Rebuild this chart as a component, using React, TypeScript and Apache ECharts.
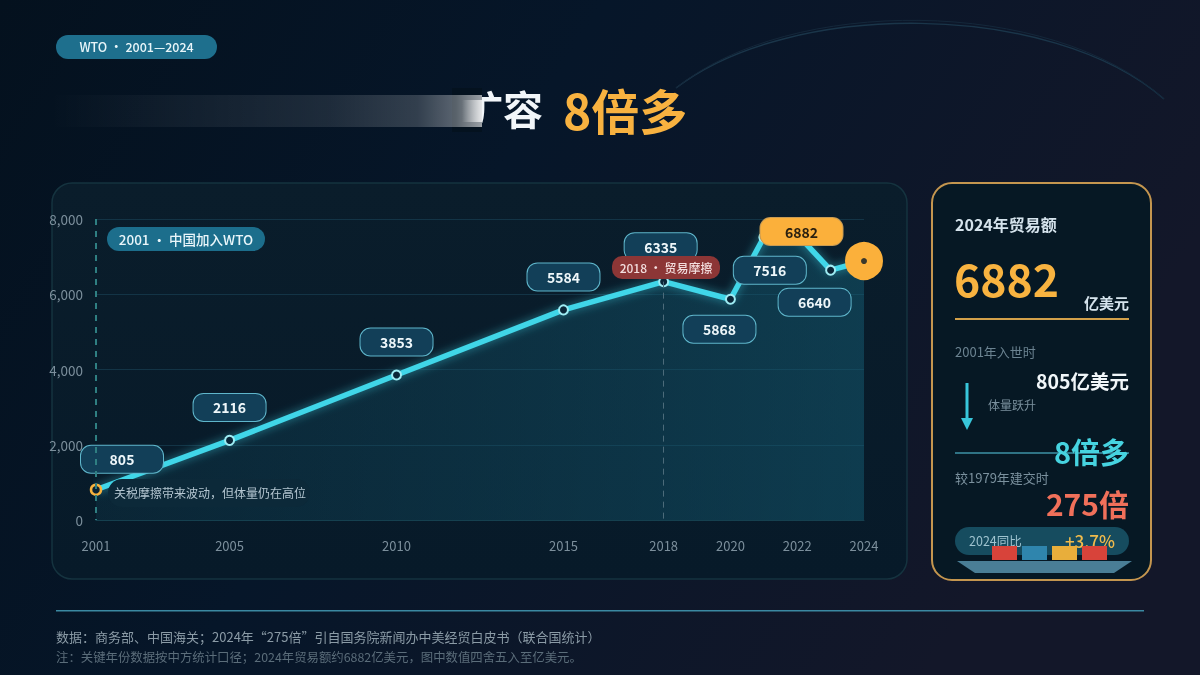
import React, { useEffect, useRef } from "react";
import * as echarts from "echarts";

const years = [2001, 2005, 2010, 2015, 2018, 2020, 2021, 2022, 2023, 2024];
const values = [805, 2116, 3853, 5584, 6335, 5868, 7516, 7594, 6640, 6882];
const tickYears = [2001, 2005, 2010, 2015, 2018, 2020, 2022, 2024];
const hiddenLabelYears = [2022];

const FONT = '"Noto Sans CJK SC", "Noto Sans", sans-serif';

const labelOffsets: Record<number, number[]> = {
  2001: [26, -30.5],
  2005: [0, -33],
  2010: [0, -33],
  2015: [0, -33],
  2018: [-3, -35],
  2020: [-11, 30],
  2021: [6, 33],
  2023: [-16, 32],
  2024: [-62.5, -29.5],
};

function txt(x: number, y: number, text: string, size: number, fill: string, opts: any = {}) {
  return {
    type: "text",
    x,
    y: y - 1,
    z: opts.z ?? 5,
    style: {
      text,
      fill,
      font: `${opts.weight ?? 400} ${size}px ${FONT}`,
      textAlign: opts.align ?? "left",
      textVerticalAlign: "middle",
      verticalAlign: "middle",
    },
  };
}

function box(x: number, y: number, w: number, h: number, r: number, fill: any, opts: any = {}) {
  return {
    type: "rect",
    z: opts.z ?? 1,
    shape: { x, y, width: w, height: h, r },
    style: { fill, stroke: opts.stroke ?? "none", lineWidth: opts.lineWidth ?? 0 },
  };
}

const linear = (x: number, y: number, x2: number, y2: number, stops: [number, string][]) =>
  new echarts.graphic.LinearGradient(
    x,
    y,
    x2,
    y2,
    stops.map(([offset, color]) => ({ offset, color }))
  );

export default function App() {
  const ref = useRef<HTMLDivElement>(null);

  useEffect(() => {
    document.body.style.margin = "0";
    const chart = echarts.init(ref.current!, undefined, { renderer: "svg" });

    const data = years.map((year, i) => {
      const first = year === 2001;
      const last = year === 2024;
      const hidden = hiddenLabelYears.includes(year);
      return {
        value: [year, values[i]],
        symbolSize: last ? 36 : first ? 10 : 9,
        itemStyle: {
          color: last ? "#fbb03b" : first ? "#0b2232" : "#0a2638",
          borderColor: first ? "#f7b23e" : last ? "#fbb03b" : "#9fecf3",
          borderWidth: first ? 2.5 : 2,
        },
        label: hidden
          ? { show: false }
          : {
              show: true,
              position: "inside",
              offset: labelOffsets[year],
              formatter: last ? "6882" : String(values[i]),
              width: first || last ? 82 : 72,
              height: 27,
              lineHeight: 27,
              align: "center",
              verticalAlign: "middle",
              fontFamily: FONT,
              fontSize: 14,
              fontWeight: 700,
              color: last ? "#2a2010" : "#eef7fa",
              backgroundColor: last ? "#fbb03b" : "#123f58",
              borderColor: last ? "#c99b52" : "#5fb6cb",
              borderWidth: 1,
              borderRadius: 10,
            },
      };
    });

    const lastIndex = years.length - 1;

    const graphic: any[] = [
      box(0, 0, 1200, 675, 0, linear(0, 0, 1, 0.35, [[0, "#04111e"], [0.45, "#061629"], [1, "#131729"]]), { z: 0 }),
      {
        type: "bezierCurve",
        z: 1,
        shape: { x1: 676, y1: 88, cpx1: 790, cpy1: 0, cpx2: 1050, cpy2: 0, x2: 1164, y2: 99 },
        style: { stroke: "#1a3549", lineWidth: 1.5, fill: "none" },
      },
      {
        type: "bezierCurve",
        z: 1,
        shape: { x1: 676, y1: 88, cpx1: 790, cpy1: -4, cpx2: 1050, cpy2: -4, x2: 1164, y2: 99 },
        style: { stroke: "#14273a", lineWidth: 1, fill: "none" },
      },

      box(56, 35, 161, 24, 12, "#1e6f8d"),
      txt(136.5, 47.5, "WTO · 2001—2024", 12.5, "#e8f5f9", { weight: 500, align: "center" }),

      txt(543, 109, "扩容", 40, "#f2f6f9", { weight: 700, align: "right" }),
      txt(563, 110, "8倍多", 48, "#f8b240", { weight: 700 }),
      box(452, 88, 30, 44, 0, "#04121f", { z: 6 }),
      box(50, 95, 432, 32, 0, linear(0, 0, 1, 0, [[0, "rgba(255,255,255,0)"], [0.3, "rgba(255,255,255,0.05)"], [0.65, "rgba(255,255,255,0.1)"], [0.85, "rgba(255,255,255,0.18)"], [0.94, "rgba(255,255,255,0.34)"], [1, "rgba(255,255,255,0.6)"]]), { z: 7 }),
      box(462, 100, 20, 22, 0, linear(0, 0, 1, 0, [[0, "rgba(255,255,255,0)"], [1, "rgba(255,255,255,0.75)"]]), { z: 8 }),

      box(52, 183, 855, 396, 20, linear(0, 0, 0, 1, [[0, "#0a1d2b"], [1, "#071a29"]]), { stroke: "#15333f", lineWidth: 1.5 }),
      box(932, 183, 219, 397, 20, "#061824", { stroke: "#c4964f", lineWidth: 2 }),

      box(107, 227, 158, 24, 12, "#1c6e8c", { z: 100 }),
      txt(186, 239.5, "2001 · 中国加入WTO", 13.5, "#eaf6fa", { weight: 500, align: "center", z: 101 }),
      box(612, 256, 108, 23, 10, "#8c3636", { z: 100 }),
      txt(666, 268, "2018 · 贸易摩擦", 12, "#f3dede", { weight: 500, align: "center", z: 101 }),
      box(108, 479, 202, 28, 14, "#0c2939", { z: 100 }),
      txt(114, 493.5, "关税摩擦带来波动，但体量仍在高位", 12, "#b4c6d1", { z: 101 }),

      txt(955, 225, "2024年贸易额", 16, "#d5e3ec", { weight: 700 }),
      txt(954, 278, "6882", 44.5, "#f8b340", { weight: 700 }),
      txt(1129, 303, "亿美元", 15, "#d5e3ec", { weight: 700, align: "right" }),
      box(955, 318, 174, 2, 0, "#d2a04a"),
      txt(955, 352, "2001年入世时", 13, "#6b8391"),
      txt(1129, 381, "805亿美元", 19.5, "#f0f6f9", { weight: 700, align: "right" }),
      box(965.5, 383, 3, 36, 0, "#38c6da"),
      {
        type: "polygon",
        z: 2,
        shape: { points: [[961, 418], [973, 418], [967, 430]] },
        style: { fill: "#38c6da" },
      },
      txt(988, 405, "体量跃升", 12, "#7b919e"),
      box(955, 452, 174, 2, 0, "#2f7385"),
      txt(1129, 452, "8倍多", 29, "#46d3e0", { weight: 700, align: "right" }),
      txt(955, 478, "较1979年建交时", 13, "#7b919e"),
      txt(1129, 504, "275倍", 30, "#f0705a", { weight: 700, align: "right" }),

      box(955, 527, 174, 28, 14, "#164c5f"),
      txt(969, 541, "2024同比", 12.5, "#9fc3cf"),
      txt(1115, 541, "+3.7%", 17, "#f0bb4c", { weight: 500, align: "right" }),
      box(992, 546, 25, 14, 0, "#d8433a", { z: 6 }),
      box(1022, 546, 25, 14, 0, "#2f85ad", { z: 6 }),
      box(1052, 546, 25, 14, 0, "#e8ae3b", { z: 6 }),
      box(1082, 546, 25, 14, 0, "#d8433a", { z: 6 }),
      {
        type: "polygon",
        z: 6,
        shape: { points: [[957, 561], [1132, 561], [1114, 573], [975, 573]] },
        style: { fill: "#4a7e96" },
      },

      box(56, 610, 1088, 1.5, 0, "#3b89a2"),
      txt(56, 637, "数据：商务部、中国海关；2024年“275倍”引自国务院新闻办中美经贸白皮书（联合国统计）", 13, "#8b9ba6"),
      txt(56, 658, "注：关键年份数据按中方统计口径；2024年贸易额约6882亿美元，图中数值四舍五入至亿美元。", 12.4, "#5b6d7a"),
    ];

    chart.setOption({
      animation: false,
      backgroundColor: "transparent",
      graphic: { elements: graphic },
      grid: { left: 96, right: 336, top: 219, bottom: 155, containLabel: false },
      xAxis: {
        type: "value",
        min: 2001,
        max: 2024,
        interval: 1,
        z: 2,
        axisLine: { show: true, onZero: false, lineStyle: { color: "#15404f", width: 1 } },
        axisTick: { show: false },
        splitLine: { show: false },
        axisLabel: {
          customValues: tickYears,
          formatter: (v: number) => String(v),
          color: "#7c8f9c",
          fontSize: 13,
          fontFamily: FONT,
          margin: 19,
        },
      },
      yAxis: {
        type: "value",
        min: 0,
        max: 8000,
        interval: 2000,
        z: 2,
        axisLine: { show: false },
        axisTick: { show: false },
        splitLine: { lineStyle: { color: "#133446", width: 1 } },
        axisLabel: {
          formatter: (v: number) => v.toLocaleString("en-US"),
          color: "#7c8f9c",
          fontSize: 13.5,
          fontFamily: FONT,
          margin: 13,
        },
      },
      series: [
        {
          type: "line",
          z: 3,
          data,
          symbol: "circle",
          showAllSymbol: true,
          clip: false,
          lineStyle: { color: "#3fd6e8", width: 5.5, shadowColor: "rgba(63,214,232,0.55)", shadowBlur: 10 },
          areaStyle: {
            color: linear(0, 0, 1, 0, [[0, "rgba(18,72,92,0.35)"], [1, "rgba(20,92,115,0.72)"]]),
          },
          markLine: {
            silent: true,
            symbol: "none",
            label: { show: false },
            data: [
              [
                { coord: [years[0], 8000], lineStyle: { color: "#2f7f82", width: 2, type: [6, 6] } },
                { coord: [years[0], 0] },
              ],
              [
                { coord: [years[4], values[4]], lineStyle: { color: "#4c6b7a", width: 1, type: [6, 5] } },
                { coord: [years[4], 0] },
              ],
            ],
          },
        },
        {
          type: "scatter",
          z: 4,
          symbolSize: 6,
          clip: false,
          itemStyle: { color: "#0a1a28" },
          data: [[years[lastIndex], values[lastIndex]]],
        },
      ],
    });

    return () => chart.dispose();
  }, []);

  return <div ref={ref} style={{ position: "fixed", left: 0, top: 0, width: 1200, height: 675 }} />;
}
